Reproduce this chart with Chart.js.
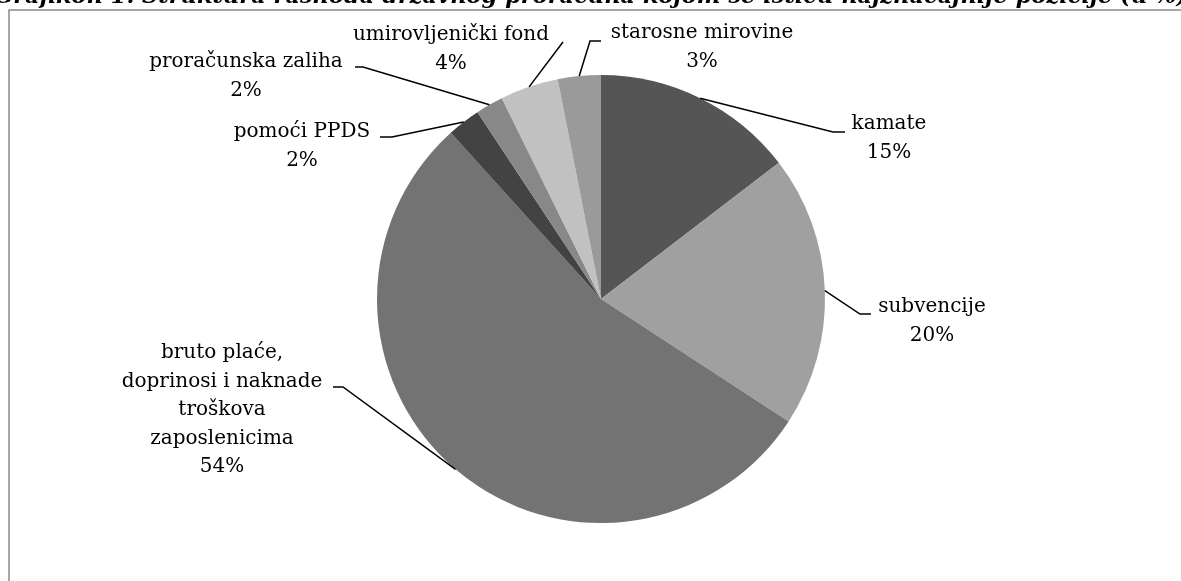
<!DOCTYPE html>
<html>
<head>
<meta charset="utf-8">
<script src="https://cdn.jsdelivr.net/npm/chart.js@4"></script>
<style>
  body { margin: 0; background: #fff; }
  #wrap { position: relative; width: 1181px; height: 581px; }
</style>
</head>
<body>
<div id="wrap"><canvas id="pie-chart" width="1181" height="581"></canvas></div>
<script>
// data (shares in %)
var categories = [
	['kamate'],
	['subvencije'],
	['bruto plaće,', 'doprinosi i naknade', 'troškova', 'zaposlenicima'],
	['pomoći PPDS'],
	['proračunska zaliha'],
	['umirovljenički fond'],
	['starosne mirovine']
];
var shares = [14.6, 19.6, 54.1, 2.4, 2.0, 4.2, 3.1];

var sliceColors = ['#555555', '#a0a0a0', '#737373', '#434343', '#888888', '#c1c1c1', '#9a9a9a'];

// where excel put the data labels (text centre, first line) and the leader stub
var labelPos = [
	{ x: 889, y: 124, stub: [[845, 132], [833, 132]] },
	{ x: 932, y: 307, stub: [[871, 314], [860, 314]] },
	{ x: 222, y: 353, stub: [[333, 387], [343, 387]] },
	{ x: 302, y: 132, stub: [[380, 137], [392, 137]] },
	{ x: 246, y: 62,  stub: [[355, 67], [363, 67]] },
	{ x: 451, y: 35,  stub: [[563, 42]] },
	{ x: 702, y: 33,  stub: [[601, 41], [590, 41]] }
];

var titleText = 'Grafikon 1. Struktura rashoda državnog proračuna kojom se ističu najznačajnije pozicije (u %)';
var labelFont = '20px "DejaVu Serif"';
var lineH = 28.5;

var framePlugin = {
	id: 'frame',
	beforeDraw: function(chart){
		var ctx = chart.ctx;
		ctx.save();
		ctx.fillStyle = '#fff';
		ctx.fillRect(0, 0, chart.width, chart.height);
		// title, only its lower edge is left in the crop
		ctx.font = 'bold italic 22.5px "DejaVu Serif"';
		ctx.fillStyle = '#000';
		ctx.textBaseline = 'alphabetic';
		ctx.textAlign = 'left';
		ctx.fillText(titleText, -6, 3);
		// chart border
		ctx.strokeStyle = '#8a8a8a';
		ctx.lineWidth = 1.5;
		ctx.beginPath();
		ctx.moveTo(9, chart.height + 5);
		ctx.lineTo(9, 10);
		ctx.lineTo(chart.width + 5, 10);
		ctx.stroke();
		ctx.restore();
	},
	afterDatasetsDraw: function(chart){
		var ctx = chart.ctx;
		var meta = chart.getDatasetMeta(0);
		var total = shares.reduce(function(a, b){ return a + b; }, 0);
		ctx.save();
		ctx.strokeStyle = '#000';
		ctx.lineWidth = 1.5;
		ctx.fillStyle = '#000';
		ctx.font = labelFont;
		ctx.textAlign = 'center';
		ctx.textBaseline = 'middle';
		meta.data.forEach(function(arc, i){
			var p = arc.getProps(['x', 'y', 'startAngle', 'endAngle', 'outerRadius'], true);
			var mid = (p.startAngle + p.endAngle) / 2;
			var ex = p.x + Math.cos(mid) * p.outerRadius;
			var ey = p.y + Math.sin(mid) * p.outerRadius;
			var lp = labelPos[i];

			ctx.beginPath();
			ctx.moveTo(lp.stub[0][0], lp.stub[0][1]);
			for (var k = 1; k < lp.stub.length; k++) {
				ctx.lineTo(lp.stub[k][0], lp.stub[k][1]);
			}
			ctx.lineTo(ex, ey);
			ctx.stroke();

			var lines = categories[i].concat([Math.round(shares[i] / total * 100) + '%']);
			lines.forEach(function(t, j){
				ctx.fillText(t, lp.x, lp.y + j * lineH);
			});
		});
		ctx.restore();
	}
};

new Chart(document.getElementById('pie-chart'), {
	type: 'pie',
	data: {
		labels: categories,
		datasets: [{
			data: shares,
			backgroundColor: sliceColors,
			borderWidth: 0
		}]
	},
	options: {
		responsive: false,
		animation: false,
		layout: {
			padding: { top: 75, bottom: 58, left: 300, right: 279 }
		},
		plugins: {
			legend: { display: false },
			tooltip: { enabled: false },
			title: { display: false }
		}
	},
	plugins: [framePlugin]
});
</script>
</body>
</html>
